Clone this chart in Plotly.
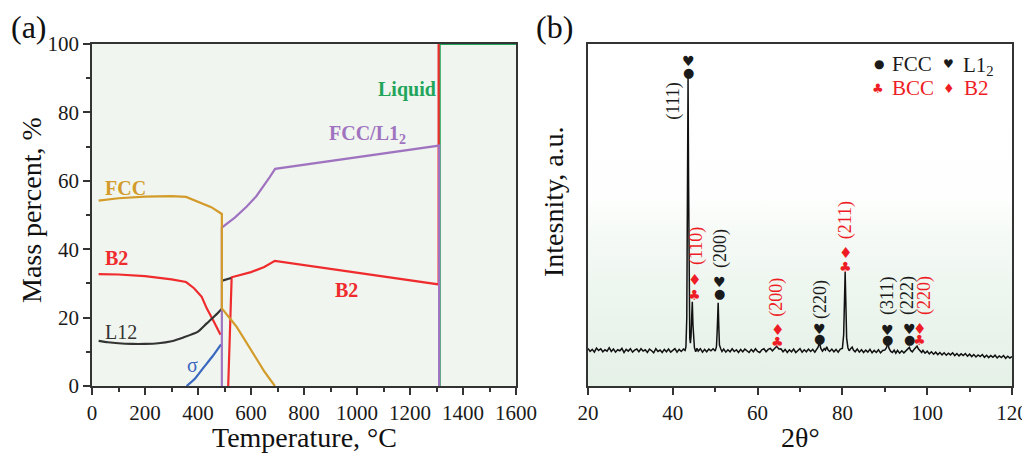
import plotly.graph_objects as go

# ---------------- Panel (a): phase fractions ----------------
fcc_T = [25, 100, 200, 300, 355, 400, 450, 490, 490, 520, 546, 570, 596, 620, 650, 690]
fcc_P = [54.2, 54.9, 55.4, 55.5, 55.3, 53.9, 52.3, 50.3, 22.7, 19.8, 17.3, 14.3, 11.0, 8.0, 4.3, 0.0]

b2_T = [25, 100, 200, 300, 355, 385, 414, 433, 460, 485, None, 514, 527, 600, 650, 690, 1000, 1308, 1308]
b2_P = [32.7, 32.6, 32.1, 31.2, 30.4, 28.6, 26.1, 22.7, 18.8, 15.0, None, 0.0, 31.8, 33.3, 34.8, 36.6, 33.2, 29.7, 100]

l12_T = [25, 60, 100, 150, 200, 250, 300, 345, 400, 433, 465, 490, None, 492, 525]
l12_P = [13.2, 12.8, 12.5, 12.3, 12.3, 12.5, 13.1, 14.2, 15.9, 18.3, 20.6, 22.6, None, 30.8, 31.6]

sigma_T = [357, 390, 420, 455, 487]
sigma_P = [0.0, 2.3, 5.3, 8.7, 12.2]

fccl12_T = [490, 490, 540, 584, 620, 647, 670, 691, 1000, 1310, 1310]
fccl12_P = [0.0, 46.3, 49.3, 52.5, 55.5, 58.3, 61.0, 63.5, 66.9, 70.3, 0.0]

liquid_T = [1312, 1312, 1600]
liquid_P = [0.0, 100, 100]

# ---------------- Panel (b): XRD pattern ----------------
two_theta = [
    20.0, 20.5, 21.0, 21.5, 22.0, 22.5, 23.0, 23.5, 24.0, 24.5, 25.0, 25.5, 26.0, 26.5, 27.0, 27.5,
    28.0, 28.5, 29.0, 29.5, 30.0, 30.5, 31.0, 31.5, 32.0, 32.5, 33.0, 33.5, 34.0, 34.5, 35.0, 35.5,
    36.0, 36.5, 37.0, 37.5, 38.0, 38.5, 39.0, 39.5, 40.0, 40.5, 41.0, 41.5, 42.0, 42.5, 42.9, 43.1,
    43.3, 43.45, 43.6, 43.72, 43.85, 44.0, 44.15, 44.3, 44.45, 44.6, 44.75, 44.9, 45.1, 45.4, 45.7, 46.0,
    46.5, 47.0, 47.5, 48.0, 48.5, 49.0, 49.5, 50.0, 50.3, 50.5, 50.7, 50.85, 51.0, 51.3, 51.6, 52.0,
    52.5, 53.0, 53.5, 54.0, 54.5, 55.0, 55.5, 56.0, 56.5, 57.0, 57.5, 58.0, 58.5, 59.0, 59.5, 60.0,
    60.5, 61.0, 61.5, 62.0, 62.5, 63.0, 63.5, 64.0, 64.5, 65.0, 65.5, 66.0, 66.5, 67.0, 67.5, 68.0,
    68.5, 69.0, 69.5, 70.0, 70.5, 71.0, 71.5, 72.0, 72.5, 73.0, 73.5, 74.0, 74.3, 74.6, 74.9, 75.3,
    75.7, 76.0, 76.3, 76.6, 77.0, 77.5, 78.0, 78.5, 79.0, 79.5, 80.0, 80.3, 80.5, 80.65, 80.8, 81.0,
    81.3, 81.6, 82.0, 82.3, 82.6, 83.0, 83.5, 84.0, 84.5, 85.0, 85.5, 86.0, 86.5, 87.0, 87.5, 88.0,
    88.5, 89.0, 89.5, 90.0, 90.4, 90.7, 91.0, 91.4, 91.8, 92.2, 92.6, 93.0, 93.5, 94.0, 94.5, 95.0,
    95.5, 95.8, 96.1, 96.5, 96.9, 97.2, 97.6, 97.9, 98.3, 98.7, 99.0, 99.5, 100.0, 100.5, 101.0, 101.5,
    102.0, 102.5, 103.0, 103.5, 104.0, 104.5, 105.0, 105.5, 106.0, 106.5, 107.0, 107.5, 108.0, 108.5, 109.0, 109.5,
    110.0, 110.5, 111.0, 111.5, 112.0, 112.5, 113.0, 113.5, 114.0, 114.5, 115.0, 115.5, 116.0, 116.5, 117.0, 117.5,
    118.0, 118.5, 119.0, 119.5, 120.0,
]
intensity = [
    11.0, 10.1, 10.7, 9.9, 11.1, 10.4, 10.9, 10.0, 10.6, 10.2, 11.2, 10.1, 10.8, 9.9, 10.6, 10.3,
    11.0, 9.8, 10.7, 10.2, 10.9, 9.9, 10.5, 10.8, 10.0, 10.9, 10.2, 10.6, 9.8, 10.8, 10.3, 9.7,
    10.9, 10.1, 10.5, 9.8, 10.7, 10.0, 10.8, 9.9, 10.4, 10.9, 9.9, 10.7, 10.1, 10.8, 10.4, 11.5,
    20.0, 55.0, 90.2, 60.0, 25.0, 14.0, 12.5, 14.5, 20.0, 24.6, 18.0, 12.8, 11.2, 10.0, 11.0, 10.2,
    10.9, 9.9, 10.7, 10.0, 10.8, 10.3, 10.9, 10.2, 11.5, 17.0, 24.3, 17.5, 12.0, 10.9, 10.1, 10.8,
    9.9, 10.6, 10.0, 10.9, 10.1, 10.6, 9.8, 10.7, 10.0, 10.8, 10.2, 9.8, 10.7, 10.0, 10.9, 10.1,
    9.8, 10.6, 10.9, 10.0, 10.7, 11.0, 10.3, 11.1, 11.6, 10.8, 10.9, 10.0, 10.7, 9.8, 10.6, 10.0,
    10.8, 9.8, 10.5, 10.9, 9.9, 10.6, 10.0, 10.8, 10.1, 10.7, 9.9, 10.8, 11.4, 12.8, 11.0, 10.2,
    10.9, 10.5, 11.5, 10.6, 10.1, 10.8, 10.0, 10.7, 9.9, 10.8, 11.0, 15.0, 26.0, 33.3, 25.0, 14.0,
    11.2, 10.3, 11.0, 11.4, 10.5, 10.0, 10.8, 9.9, 10.6, 9.8, 10.5, 9.9, 10.7, 9.7, 10.4, 9.8,
    10.6, 9.7, 10.4, 10.5, 11.2, 12.6, 11.0, 10.1, 9.8, 10.5, 9.6, 10.4, 9.6, 10.3, 9.7, 10.3,
    10.7, 11.3, 10.4, 10.0, 10.7, 11.2, 11.7, 10.9, 10.2, 9.8, 10.4, 9.6, 10.2, 9.4, 10.0, 9.3,
    9.9, 9.2, 9.8, 9.1, 9.7, 9.0, 9.6, 9.1, 9.7, 8.9, 9.5, 8.8, 9.4, 8.9, 9.5, 8.7,
    9.3, 8.6, 9.2, 8.5, 9.1, 8.6, 9.2, 8.4, 9.0, 8.3, 8.9, 8.4, 9.0, 8.2, 8.8, 8.3,
    8.9, 8.1, 8.7, 8.2, 8.6,
]

# peak markers
peak_sym_x = [43.6, 43.6, 45.2, 45.2, 50.9, 50.9, 64.6, 64.6, 74.7, 74.7, 80.8, 80.8, 90.7, 90.7, 95.8, 95.8, 98.3, 98.3]
peak_sym_y = [95.0, 91.6, 30.9, 26.5, 30.4, 27.0, 16.5, 12.9, 16.8, 13.9, 39.0, 34.8, 16.5, 13.7, 16.7, 13.7, 16.8, 13.4]
peak_sym_g = ["♥", "●", "♦", "♣", "♥", "●", "♦", "♣", "♥", "●", "♦", "♣", "♥", "●", "♥", "●", "♦", "♣"]
peak_sym_c = ["k", "k", "r", "r", "k", "k", "r", "r", "k", "k", "r", "r", "k", "k", "k", "k", "r", "r"]

hkl_x = [40.3, 45.6, 51.1, 64.6, 74.7, 80.8, 90.8, 95.3, 99.3]
hkl_y = [83.4, 40.8, 40.3, 25.8, 25.4, 48.4, 26.4, 26.4, 26.4]
hkl_text = ["(111)", "(110)", "(200)", "(200)", "(220)", "(211)", "(311)", "(222)", "(220)"]
hkl_c = ["k", "r", "k", "r", "k", "r", "k", "k", "r"]

COL = {"k": "#1a1a1a", "r": "#ee1c25"}
SERIF = "Liberation Serif, Times New Roman, serif"
SYM = "DejaVu Sans, Liberation Serif"

C_FCC = "#d39b2a"
C_B2 = "#ef2b2d"
C_L12 = "#333333"
C_SIG = "#3a68c0"
C_PUR = "#a073c1"
C_LIQ = "#22a55a"

fig = go.Figure()

# gradient background for panel (b)
fig.add_trace(go.Scatter(
    x=[20, 120, 120, 20, 20], y=[0, 0, 100, 100, 0], xaxis="x2", yaxis="y2",
    mode="lines", line=dict(width=0), fill="toself",
    fillgradient=dict(type="vertical", start=0, stop=100,
                      colorscale=[[0, "#e5f0e7"], [0.25, "#ecf5ee"], [0.42, "#f4f9f5"],
                                  [0.55, "#fdfefd"], [1, "#ffffff"]]),
    hoverinfo="skip", showlegend=False))

lw = 2.2
fig.add_trace(go.Scatter(x=liquid_T, y=liquid_P, mode="lines", line=dict(color=C_LIQ, width=lw), showlegend=False))
fig.add_trace(go.Scatter(x=b2_T, y=b2_P, mode="lines", line=dict(color=C_B2, width=lw), showlegend=False))
fig.add_trace(go.Scatter(x=l12_T, y=l12_P, mode="lines", line=dict(color=C_L12, width=lw, shape="spline", smoothing=0.6), showlegend=False))
fig.add_trace(go.Scatter(x=sigma_T, y=sigma_P, mode="lines", line=dict(color=C_SIG, width=lw, shape="spline", smoothing=0.5), showlegend=False))
fig.add_trace(go.Scatter(x=fccl12_T, y=fccl12_P, mode="lines", line=dict(color=C_PUR, width=lw), showlegend=False))
fig.add_trace(go.Scatter(x=fcc_T, y=fcc_P, mode="lines", line=dict(color=C_FCC, width=lw), showlegend=False))

fig.add_trace(go.Scatter(x=two_theta, y=intensity, xaxis="x2", yaxis="y2", mode="lines",
                         line=dict(color="#111111", width=1.5), showlegend=False))

# page body has an 8px margin: size the figure so it fits the 1030x458 window
OFF = 8
W, H = 1030 - OFF, 458 - OFF
ml, mr, mt, mb = 92 - OFF, 18, 44 - OFF, 72
pw = W - ml - mr
ph = H - mt - mb

axis_common = dict(showline=True, linecolor="#333333", linewidth=1.5, mirror=True,
                   ticks="outside", ticklen=7, tickwidth=1.5, tickcolor="#333333",
                   showgrid=False, zeroline=False, automargin=False,
                   tickfont=dict(family=SERIF, size=21, color="#1a1a1a"))

fig.update_layout(
    width=W, height=H, margin=dict(l=ml, r=mr, t=mt, b=mb),
    paper_bgcolor="white", plot_bgcolor="rgba(0,0,0,0)",
    xaxis=dict(domain=[0, 424 / pw], range=[0, 1600], dtick=200, tick0=0,
               minor=dict(dtick=100, ticklen=4, tickwidth=1.5, ticks="outside", tickcolor="#333333"),
               layer="below traces", **axis_common),
    yaxis=dict(domain=[0, 1], range=[0, 100], dtick=20, tick0=0,
               minor=dict(dtick=10, ticklen=4, tickwidth=1.5, ticks="outside", tickcolor="#333333"),
               layer="below traces", **axis_common),
    xaxis2=dict(domain=[496 / pw, 1], range=[20, 120], dtick=20, tick0=20, anchor="y2",
                minor=dict(dtick=10, ticklen=4, tickwidth=1.5, ticks="outside", tickcolor="#333333"),
                **axis_common),
    yaxis2=dict(domain=[0, 1], range=[0, 100], anchor="x2", showline=True, linecolor="#333333",
                linewidth=1.5, mirror=True, showticklabels=False, ticks="", showgrid=False,
                zeroline=False, automargin=False),
)

# left panel background
fig.add_shape(type="rect", xref="x", yref="y", x0=0, x1=1600, y0=0, y1=100,
              fillcolor="#f0f6ef", line=dict(width=0), layer="below")

ann = []
def px2paper(px, py):
    # px, py are window pixel positions in the reference picture
    return (px - OFF - ml) / pw, (H - mb - (py - OFF)) / ph

for txt, (px, py), ang in [("(a)", (29, 27), 0), ("(b)", (554, 27), 0),
                           ("Mass percent, %", (31, 210), -90),
                           ("Temperature, °C", (304, 438), 0),
                           ("Intesnity, a.u.", (553, 202), -90),
                           ("2θ°", (800, 438), 0)]:
    x, y = px2paper(px, py)
    ann.append(dict(text=txt, x=x, y=y, xref="paper", yref="paper", showarrow=False,
                    textangle=ang, xanchor="center", yanchor="middle",
                    font=dict(family=SERIF, size=32 if txt.startswith("(") else 28, color="#111111")))

for txt, tx, ty, col, bold in [("FCC", 125, 57.9, C_FCC, True), ("B2", 94, 37.4, C_B2, True),
                                ("L12", 110, 15.9, C_L12, False), ("σ", 381, 6.1, C_SIG, False),
                                ("FCC/L1<sub>2</sub>", 1041, 73.5, C_PUR, True),
                                ("B2", 962, 28.1, C_B2, True), ("Liquid", 1188, 86.8, C_LIQ, True)]:
    ann.append(dict(text=f"<b>{txt}</b>" if bold else txt, x=tx, y=ty, xref="x", yref="y",
                    showarrow=False, xanchor="center", yanchor="middle",
                    font=dict(family=SERIF, size=20, color=col)))

for x, y, g, c in zip(peak_sym_x, peak_sym_y, peak_sym_g, peak_sym_c):
    size = {"♥": 14, "●": 13, "♦": 15, "♣": 14}[g]
    ann.append(dict(text=g, x=x, y=y, xref="x2", yref="y2", showarrow=False,
                    xanchor="center", yanchor="middle", font=dict(family=SYM, size=size, color=COL[c])))

for x, y, t, c in zip(hkl_x, hkl_y, hkl_text, hkl_c):
    ann.append(dict(text=t, x=x, y=y, xref="x2", yref="y2", showarrow=False, textangle=-90,
                    xanchor="center", yanchor="middle", font=dict(family=SERIF, size=18, color=COL[c])))

for g, gx, gy, c, s in [("●", 88.6, 94.2, "k", 12), ("♥", 105.1, 94.2, "k", 12),
                        ("♣", 88.3, 87.1, "r", 13), ("♦", 105.1, 87.1, "r", 13)]:
    ann.append(dict(text=g, x=gx, y=gy, xref="x2", yref="y2", showarrow=False,
                    xanchor="center", yanchor="middle", font=dict(family=SYM, size=s, color=COL[c])))
for t, tx, ty, c in [("FCC", 91.2, 94.2, "k"), ("L1<sub>2</sub>", 107.9, 93.6, "k"),
                     ("BCC", 91.2, 87.1, "r"), ("B2", 108.1, 87.1, "r")]:
    ann.append(dict(text=t, x=tx, y=ty, xref="x2", yref="y2", showarrow=False,
                    xanchor="left", yanchor="middle", font=dict(family=SERIF, size=21, color=COL[c])))

fig.update_layout(annotations=ann)
fig.write_html("out.html")
